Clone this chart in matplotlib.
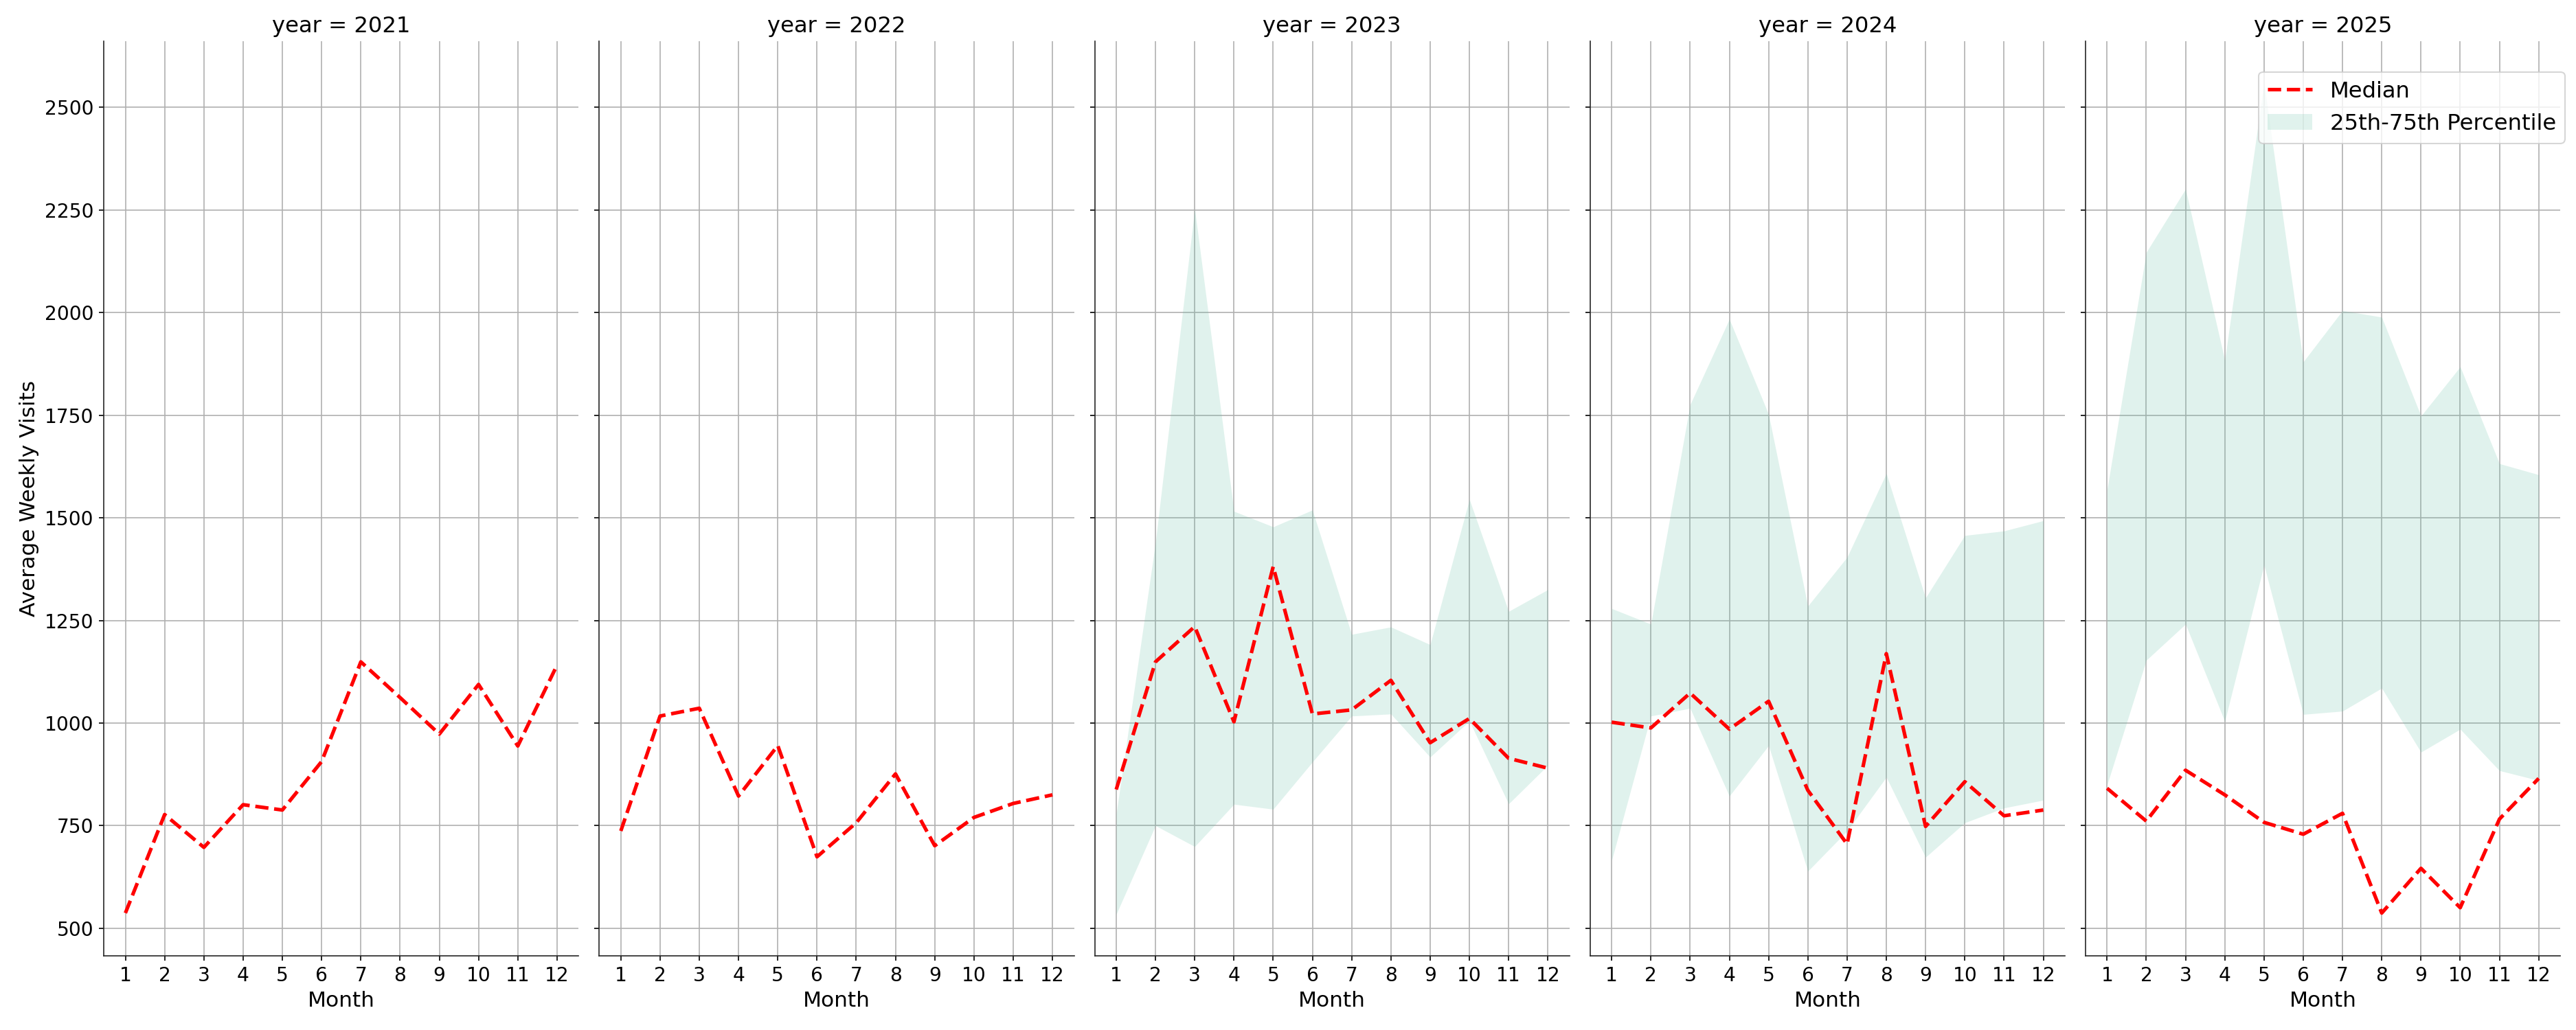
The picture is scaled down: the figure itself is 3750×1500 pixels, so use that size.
import numpy as np
import matplotlib
matplotlib.use("Agg")
import matplotlib.pyplot as plt

months = list(range(1, 13))
years = [2021, 2022, 2023, 2024, 2025]

median_2021 = [537, 777, 697, 801, 788, 906, 1149, 1062, 973, 1094, 944, 1141]
median_2022 = [737, 1017, 1036, 822, 945, 674, 757, 876, 701, 770, 804, 825]
median_2023 = [838, 1149, 1235, 1003, 1381, 1022, 1032, 1104, 952, 1011, 914, 890]
median_2024 = [1002, 988, 1073, 985, 1053, 836, 705, 1169, 748, 857, 774, 788]
median_2025 = [841, 761, 885, 825, 758, 729, 780, 537, 646, 550, 766, 865]

q25_2023 = [534, 750, 699, 802, 790, 905, 1017, 1022, 917, 1005, 803, 897]
q25_2024 = [665, 1017, 1036, 822, 945, 639, 737, 868, 673, 757, 793, 812]
q25_2025 = [849, 1153, 1241, 1004, 1385, 1021, 1029, 1085, 929, 985, 884, 860]

q75_2023 = [778, 1440, 2253, 1516, 1478, 1519, 1216, 1234, 1191, 1545, 1272, 1325]
q75_2024 = [1279, 1241, 1776, 1984, 1752, 1285, 1404, 1608, 1305, 1457, 1468, 1493]
q75_2025 = [1568, 2147, 2301, 1884, 2560, 1880, 2005, 1989, 1748, 1868, 1632, 1605]

medians = {2021: median_2021, 2022: median_2022, 2023: median_2023,
           2024: median_2024, 2025: median_2025}
q25s = {2023: q25_2023, 2024: q25_2024, 2025: q25_2025}
q75s = {2023: q75_2023, 2024: q75_2024, 2025: q75_2025}

yticks = [500, 750, 1000, 1250, 1500, 1750, 2000, 2250, 2500]

fig, axes = plt.subplots(1, 5, figsize=(25, 10), dpi=150, sharey=True)
fig.subplots_adjust(left=0.0403, right=0.9939, top=0.96, bottom=0.072, wspace=0.0434)

for ax, yr in zip(axes, years):
    ax.grid(True, color="#b0b0b0", linewidth=0.8)
    ax.set_axisbelow(True)
    if yr in q25s:
        ax.fill_between(months, q25s[yr], q75s[yr], color="#66c2a5", alpha=0.2,
                        linewidth=0, label="25th-75th Percentile")
    ax.plot(months, medians[yr], color="red", linestyle="--", linewidth=2.5,
            label="Median")
    ax.set_title(f"year = {yr}", fontsize=15.5)
    ax.set_xlabel("Month", fontsize=15)
    ax.set_xticks(months)
    ax.set_yticks(yticks)
    ax.tick_params(labelsize=13.5)
    ax.spines["top"].set_visible(False)
    ax.spines["right"].set_visible(False)
    ax.spines["left"].set_color("#262626")
    ax.spines["bottom"].set_color("#262626")

axes[0].set_ylabel("Average Weekly Visits", fontsize=15)

handles, labels = axes[-1].get_legend_handles_labels()
order = [labels.index("Median"), labels.index("25th-75th Percentile")]
fig.legend([handles[i] for i in order], [labels[i] for i in order],
           loc="upper right", bbox_to_anchor=(1.0, 0.941), fontsize=15.5)

fig.savefig("out.png", dpi=150)
